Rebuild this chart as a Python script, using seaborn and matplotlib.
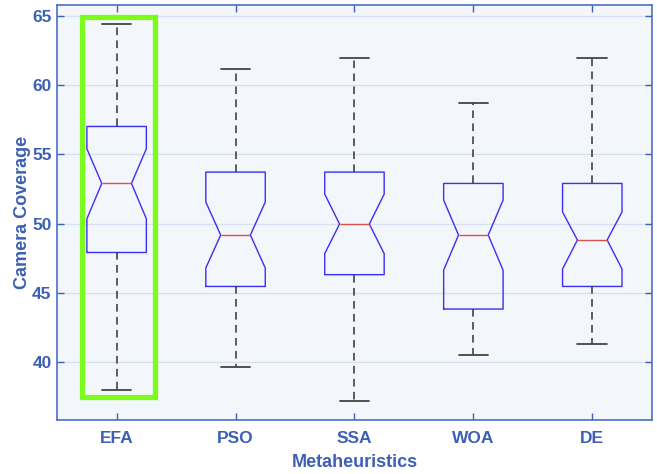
import matplotlib
matplotlib.use('Agg')
from matplotlib import pyplot as plt
import seaborn as sns

# values
algos = ['EFA', 'PSO', 'SSA', 'WOA', 'DE']
whis_lo = [38.0, 39.7, 37.25, 40.5, 41.35]
q1 = [47.93, 45.48, 46.33, 43.85, 45.48]
medians = [52.91, 49.19, 49.98, 49.19, 48.83]
q3 = [57.02, 53.73, 53.73, 52.91, 52.91]
whis_hi = [64.42, 61.16, 61.95, 58.68, 61.95]
notch_lo = [50.36, 46.81, 47.85, 46.65, 46.74]
notch_hi = [55.41, 51.57, 52.14, 51.71, 50.85]

blue_txt = '#3d5fb4'

sns.set_style('whitegrid', {'axes.facecolor': '#f3f6fb', 'grid.color': '#d6e0f2',
                            'axes.edgecolor': '#4a6fc4'})
plt.rcParams['font.family'] = ['Liberation Sans', 'DejaVu Sans']

stats = []
for i, name in enumerate(algos):
    stats.append({'label': name, 'whislo': whis_lo[i], 'q1': q1[i], 'med': medians[i],
                  'q3': q3[i], 'whishi': whis_hi[i], 'cilo': notch_lo[i],
                  'cihi': notch_hi[i], 'fliers': []})

fig, ax = plt.subplots(figsize=(6.57, 4.74), dpi=100)
fig.subplots_adjust(left=0.087, right=0.992, top=0.99, bottom=0.114)

ax.bxp(stats, positions=range(len(algos)), widths=0.5, shownotches=True,
       boxprops=dict(color='#3b2ff5', linewidth=1.0),
       medianprops=dict(color='#e0504a', linewidth=1.0),
       whiskerprops=dict(color='#333333', linestyle=(0, (5, 3.5)), linewidth=1.1),
       capprops=dict(color='#444444', linewidth=1.3))

# highlight box around EFA
ax.add_patch(plt.Rectangle((-0.295, 37.5), 0.615, 27.45, fill=False,
                           edgecolor='#7cfc1c', linewidth=3.8, zorder=5))

ax.set_xlim(-0.5, 4.5)
ax.set_ylim(35.85, 65.8)
ax.set_yticks([40, 45, 50, 55, 60, 65])
ax.set_xticks(range(len(algos)))
ax.set_xticklabels(algos)
ax.xaxis.grid(False)
ax.yaxis.grid(True, linewidth=0.9)
ax.tick_params(axis='both', colors=blue_txt, labelsize=12.5, direction='in', length=5,
               width=1, top=True, right=True, bottom=True, left=True)
ax.tick_params(axis='y', pad=4)
ax.tick_params(axis='x', pad=8)
for lab in ax.get_xticklabels() + ax.get_yticklabels():
    lab.set_fontweight('bold')
    lab.set_color(blue_txt)
for s in ax.spines.values():
    s.set_color('#4a6fc4')
    s.set_linewidth(1.2)

ax.set_xlabel('Metaheuristics', fontsize=13, fontweight='bold', color=blue_txt, labelpad=6)
ax.set_ylabel('Camera Coverage', fontsize=13, fontweight='bold', color=blue_txt, labelpad=1)

fig.savefig('out.png', dpi=100)
